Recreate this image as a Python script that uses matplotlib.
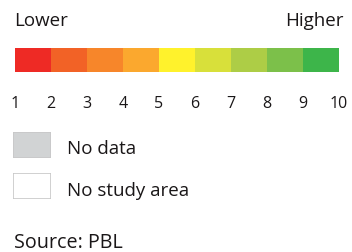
import matplotlib
matplotlib.use('Agg')
import matplotlib.pyplot as plt

# Legend data
klassen = [1, 2, 3, 4, 5, 6, 7, 8, 9, 10]
kleuren = ['#EE2A25', '#F26226', '#F7862A', '#FBA82E', '#FFF22C',
           '#D8E03A', '#ADCD46', '#7CC04A', '#3DB54A']
extra_labels = ['No data', 'No study area']
extra_kleuren = ['#D1D3D4', '#FFFFFF']
bron = 'Source: PBL'

plt.rcParams['font.family'] = ['Open Sans', 'DejaVu Sans']

W, H = 352, 252
fig = plt.figure(figsize=(W / 100, H / 100), dpi=100)

def fy(y):
    # pixel row (from top) to figure fraction
    return 1 - y / H

# Colour bar axes
x0, x1, y0, y1 = 15, 339, 48, 72
ax = fig.add_axes([x0 / W, fy(y1), (x1 - x0) / W, (y1 - y0) / H])
for i, c in enumerate(kleuren):
    ax.bar(i, 1, width=1, align='edge', color=c, edgecolor='none')
ax.set_xlim(0, len(kleuren))
ax.set_ylim(0, 1)
ax.axis('off')

fs = 13.5
tekst = '#1A1718'
fig.text(14 / W, fy(25.5), 'Lower', fontsize=fs, va='baseline', ha='left', color=tekst)
fig.text(344 / W, fy(25.5), 'Higher', fontsize=fs, va='baseline', ha='right', color=tekst)

# Class numbers at the boundaries of the bar
for i, k in enumerate(klassen):
    xp = x0 + i * (x1 - x0) / len(kleuren)
    fig.text(xp / W, fy(108.5), str(k), fontsize=fs - 2, va='baseline', ha='center', color=tekst)

# No data / no study area boxes
box_y = [132, 173]
tekst_y = [153.5, 195.5]
for j, (lab, c) in enumerate(zip(extra_labels, extra_kleuren)):
    bax = fig.add_axes([13 / W, fy(box_y[j] + 26), 38 / W, 26 / H])
    bax.bar(0, 1, width=1, align='edge', color=c, edgecolor='#C8C8C8', linewidth=1.2)
    bax.set_xlim(0, 1)
    bax.set_ylim(0, 1)
    bax.axis('off')
    fig.text(67 / W, fy(tekst_y[j]), lab, fontsize=fs, va='baseline', ha='left', color=tekst)

fig.text(14 / W, fy(247.5), bron, fontsize=14.2, va='baseline', ha='left', color=tekst)

fig.savefig('out.png', dpi=100)
